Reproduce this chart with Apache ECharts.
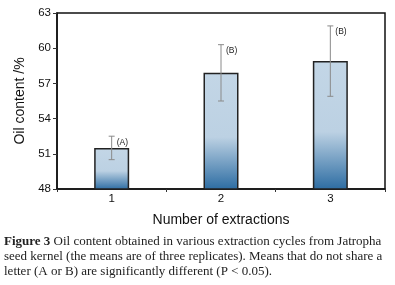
<!DOCTYPE html>
<html>
<head>
<meta charset="utf-8">
<script src="https://cdn.jsdelivr.net/npm/echarts@6/dist/echarts.min.js"></script>
<style>
  html, body { margin: 0; padding: 0; background: #fff; }
  #chart { width: 395px; height: 285px; }
</style>
</head>
<body>
<div id="chart"></div>
<script>
// data
var extractions = ['1', '2', '3'];
var oilMeans = [51.5, 57.9, 58.9];
var oilErr = [1.0, 2.4, 3.0];
var letters = ['(A)', '(B)', '(B)'];
var yTicks = [48, 51, 54, 57, 60, 63];

var myChart = echarts.init(document.getElementById('chart'));

var barFill = new echarts.graphic.LinearGradient(0, 0, 0, 1, [
  { offset: 0, color: '#c3d6e6' },
  { offset: 0.55, color: '#bcd1e3' },
  { offset: 1, color: '#2c6ca2' }
]);

var option = {
  animation: false,
  grid: {
    left: 57, right: 10, top: 13, bottom: 96,
    show: true, borderColor: '#111', borderWidth: 1.5
  },
  xAxis: {
    type: 'category',
    data: extractions,
    name: 'Number of extractions',
    nameLocation: 'middle',
    nameGap: 24,
    nameTextStyle: { fontFamily: 'Liberation Sans', fontSize: 14, color: '#111' },
    axisLine: { lineStyle: { color: '#111', width: 1.5 } },
    axisTick: { show: true, length: 3, lineStyle: { color: '#333' } },
    axisLabel: { fontFamily: 'Liberation Sans', fontSize: 11.5, color: '#111', margin: 4 }
  },
  yAxis: {
    type: 'value',
    min: yTicks[0],
    max: yTicks[yTicks.length - 1],
    interval: 3,
    name: 'Oil content /%',
    nameLocation: 'middle',
    nameGap: 30,
    nameTextStyle: { fontFamily: 'Liberation Sans', fontSize: 14, color: '#111' },
    splitLine: { show: false },
    axisLine: { show: true, lineStyle: { color: '#111', width: 1.5 } },
    axisTick: { show: true, length: 4, lineStyle: { color: '#333' } },
    axisLabel: { fontFamily: 'Liberation Sans', fontSize: 11.5, color: '#111', margin: 6 }
  },
  series: [
    {
      type: 'bar',
      data: oilMeans,
      barWidth: 35,
      itemStyle: { color: barFill, borderColor: '#222', borderWidth: 1.5 }
    },
    {
      type: 'custom',
      data: oilMeans.map(function (m, i) { return [i, m - oilErr[i], m + oilErr[i]]; }),
      renderItem: function (params, api) {
        var lo = api.coord([api.value(0), api.value(1)]);
        var hi = api.coord([api.value(0), api.value(2)]);
        var st = { stroke: '#8a8a8a', lineWidth: 1 };
        return {
          type: 'group',
          children: [
            { type: 'line', shape: { x1: hi[0], y1: hi[1], x2: lo[0], y2: lo[1] }, style: st },
            { type: 'line', shape: { x1: hi[0] - 3, y1: hi[1], x2: hi[0] + 3, y2: hi[1] }, style: st },
            { type: 'line', shape: { x1: lo[0] - 3, y1: lo[1], x2: lo[0] + 3, y2: lo[1] }, style: st },
            {
              type: 'text',
              x: hi[0] + 5, y: hi[1] + 6,
              style: {
                text: letters[params.dataIndex], fill: '#222',
                fontFamily: 'Liberation Sans', fontSize: 8.5, verticalAlign: 'middle'
              }
            }
          ]
        };
      },
      z: 5
    }
  ],
  graphic: [
    {
      type: 'text', left: 4, top: 234,
      style: {
        text: '{b|Figure 3} Oil content obtained in various extraction cycles from Jatropha\nseed kernel (the means are of three replicates). Means that do not share a\nletter (A or B) are significantly different (P < 0.05).',
        fontFamily: 'Liberation Serif', fontSize: 13, lineHeight: 15, fill: '#222',
        rich: { b: { fontFamily: 'Liberation Serif', fontSize: 13, fontWeight: 'bold', fill: '#222' } }
      }
    }
  ]
};

myChart.setOption(option);
</script>
</body>
</html>
